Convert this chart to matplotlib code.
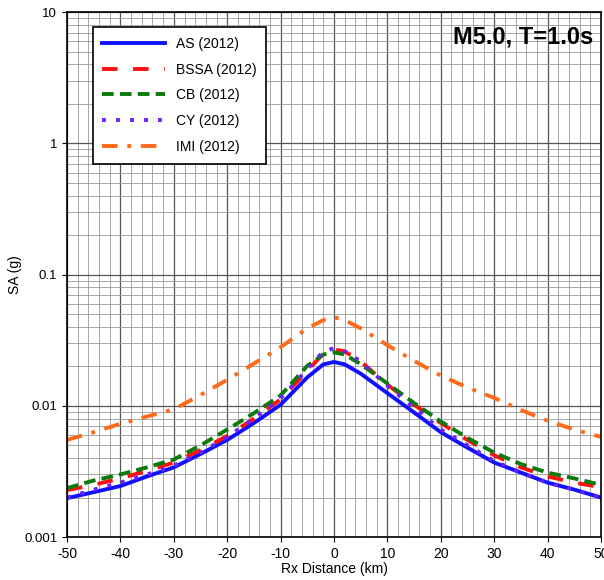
import matplotlib
matplotlib.use("Agg")
import matplotlib.pyplot as plt
import numpy as np
from matplotlib.ticker import FixedLocator, FixedFormatter, LogLocator, NullFormatter

# Rx distances (km) and SA values (g)
rx = [-50, -45, -40, -35, -30, -25, -20, -15, -10, -5, -2, 0, 2, 5, 10, 15, 20, 25, 30, 35, 40, 45, 50]
sa_as   = [0.00198, 0.0022, 0.00245, 0.0029, 0.0034, 0.0043, 0.0055, 0.0074, 0.0102, 0.0165, 0.0207, 0.0216,
           0.0207, 0.0176, 0.0125, 0.0089, 0.0063, 0.0048, 0.0037, 0.0031, 0.0026, 0.0023, 0.0020]
sa_bssa = [0.00228, 0.0025, 0.0028, 0.0032, 0.0037, 0.0046, 0.0059, 0.0080, 0.0112, 0.0185, 0.025, 0.027,
           0.026, 0.0218, 0.0145, 0.0102, 0.0074, 0.0055, 0.0042, 0.0034, 0.0029, 0.0026, 0.0024]
sa_cb   = [0.00236, 0.0027, 0.0030, 0.0034, 0.0039, 0.0050, 0.0066, 0.0088, 0.0120, 0.0202, 0.0246, 0.0256,
           0.0246, 0.0208, 0.0148, 0.0105, 0.0076, 0.0057, 0.0044, 0.0036, 0.0031, 0.0028, 0.0025]
sa_cy   = [0.0020, 0.0023, 0.0026, 0.0030, 0.0035, 0.0044, 0.0058, 0.0080, 0.0114, 0.0190, 0.026, 0.0275,
           0.026, 0.0218, 0.0142, 0.0097, 0.0066, 0.0050, 0.0038, 0.0031, 0.0026, 0.0023, 0.0020]
sa_imi  = [0.0055, 0.0063, 0.0073, 0.0083, 0.0094, 0.0121, 0.0158, 0.021, 0.028, 0.039, 0.045, 0.0474,
           0.045, 0.039, 0.029, 0.022, 0.017, 0.0138, 0.0115, 0.0093, 0.0077, 0.0066, 0.0058]

plt.rcParams['font.family'] = ['Liberation Sans', 'DejaVu Sans']
plt.rcParams['axes.unicode_minus'] = False

fig = plt.figure(figsize=(6.04, 5.80), dpi=100)
ax = fig.add_axes([0.111, 0.074, 0.884, 0.905])

ax.plot(rx, sa_as, color='#1010ff', lw=2.8, label='AS (2012)')
ax.plot(rx, sa_bssa, color='#ff1010', lw=2.8, dashes=(4, 4), label='BSSA (2012)')
ax.plot(rx, sa_cb, color='#0a7a0a', lw=2.8, dashes=(3, 1.6), label='CB (2012)')
ax.plot(rx, sa_cy, color='#6a20ff', lw=2.8, dashes=(1, 2.6), label='CY (2012)')
ax.plot(rx, sa_imi, color='#ff6a1a', lw=2.8, dashes=(4, 2.5, 1, 2.5), label='IMI (2012)')

ax.set_yscale('log')
ax.set_xlim(-50, 50)
ax.set_ylim(0.001, 10)
ax.set_xticks(np.arange(-50, 51, 10))
ax.set_xticks(np.arange(-50, 51, 2), minor=True)
ax.yaxis.set_major_locator(FixedLocator([0.001, 0.01, 0.1, 1, 10]))
ax.yaxis.set_major_formatter(FixedFormatter(['0.001', '0.01', '0.1', '1', '10']))
ax.yaxis.set_minor_locator(LogLocator(base=10, subs=np.arange(2, 10)))
ax.yaxis.set_minor_formatter(NullFormatter())

ax.grid(which='major', color='#555555', lw=0.9)
ax.grid(which='minor', color='#999999', lw=0.6)
ax.set_axisbelow(True)
ax.tick_params(which='both', direction='out', labelsize=10)
ax.tick_params(axis='y', labelsize=9.5)
ax.tick_params(which='minor', length=0)
for s in ax.spines.values():
    s.set_linewidth(1.2)

ax.set_xlabel('Rx Distance (km)', fontsize=10, labelpad=1)
ax.set_ylabel('SA (g)', fontsize=10)
ax.yaxis.set_label_coords(-0.085, 0.5)

ax.text(0.985, 0.975, 'M5.0, T=1.0s', transform=ax.transAxes, ha='right', va='top',
        fontsize=17, fontweight='bold')

leg = ax.legend(loc='upper left', bbox_to_anchor=(0.035, 0.985), fontsize=10,
                handlelength=4.5, borderpad=0.7, labelspacing=0.85, fancybox=False,
                framealpha=1, edgecolor='black')
leg.get_frame().set_linewidth(1.2)

fig.savefig('out.png', dpi=100)
